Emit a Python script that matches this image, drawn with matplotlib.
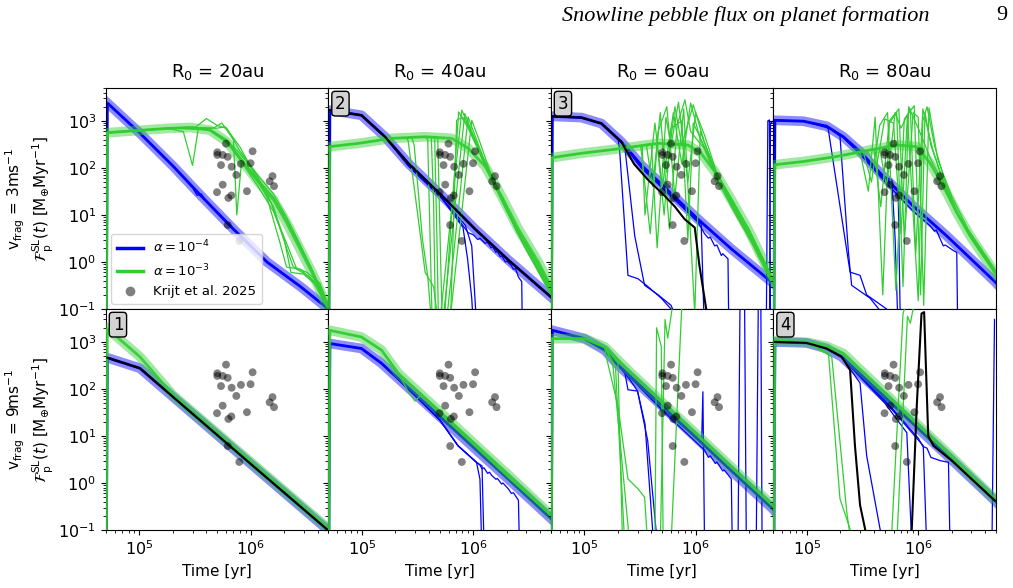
import matplotlib
matplotlib.use('Agg')
import matplotlib.pyplot as plt
from matplotlib.lines import Line2D

# ---------------- data ----------------
R0_LABELS = ['R$_0$ = 20au', 'R$_0$ = 40au', 'R$_0$ = 60au', 'R$_0$ = 80au']
ROW_LABELS = ['v$_{\\rm frag}$ = 3ms$^{-1}$', 'v$_{\\rm frag}$ = 9ms$^{-1}$']
YLAB2 = '$\\mathcal{F}_{\\rm p}^{\\rm SL}(t)$ [M$_{\\oplus}$Myr$^{-1}$]'
LEGEND_LABELS = ['$\\alpha = 10^{-4}$', '$\\alpha = 10^{-3}$', 'Krijt et al. 2025']

KRIJT_T = [5.01e5, 6.0e5, 5.01e5, 5.6e5, 6.21e5, 1.04e6, 5.41e5, 6.74e5, 8.17e5, 9.97e5, 7.43e5,
           1.57e6, 1.48e6, 1.62e6, 5.6e5, 4.98e5, 6.7e5, 6.3e5, 9.25e5, 6.21e5, 7.9e5]
KRIJT_F = [215, 328, 189, 189, 172, 226, 115, 106, 122, 126, 71,
           67, 52, 41, 44, 30.5, 26, 23, 32, 6.1, 2.8]

# --- v_frag = 3 m/s, R0 = 20 au
V3R20_BLUE = [(5.0e4, 1e-3), (5.15e4, 2400), (1e5, 560), (2e5, 110), (3.5e5, 27), (7e5, 5.0),
              (1.4e6, 1.0), (2.8e6, 0.3), (5e6, 0.1)]
V3R20_GREEN = [(5.0e4, 1e-3), (5.15e4, 560), (8.8e4, 615), (1.75e5, 690), (2.84e5, 725), (4.3e5, 637),
               (6.1e5, 361), (8.0e5, 161), (1.13e6, 56), (1.6e6, 21), (2.1e6, 6.9), (2.77e6, 1.9),
               (3.66e6, 0.52), (4.8e6, 0.12), (5e6, 0.1)]
V3R20_THIN_BLUE = [
    [(5.15e4, 2400), (1e5, 560), (2e5, 110), (3.0e5, 38), (3.3e5, 26), (3.6e5, 28), (4e5, 19),
     (7e5, 4.8), (1.4e6, 1.0), (2.8e6, 0.3), (5e6, 0.1)],
]
V3R20_THIN_GREEN = [
    [(5.15e4, 580), (1.75e5, 700), (2.48e5, 590), (3.0e5, 113), (3.38e5, 690), (4.3e5, 640), (6.1e5, 370),
     (8.0e5, 170), (1.13e6, 62), (1.6e6, 24), (2.1e6, 8), (2.77e6, 2.2), (3.66e6, 0.6), (5e6, 0.12)],
    [(5.15e4, 560), (1.75e5, 690), (3.2e5, 740), (4.0e5, 1120), (5.0e5, 800), (6.1e5, 690), (7.0e5, 390),
     (7.5e5, 10), (8.3e5, 148), (1.13e6, 55), (1.6e6, 15), (2.0e6, 3), (2.3e6, 0.6), (3.0e6, 0.55),
     (4.0e6, 0.3), (5e6, 0.1)],
    [(5.15e4, 560), (1.75e5, 690), (3.5e5, 720), (5.0e5, 700), (5.9e5, 750), (8e5, 280), (1.39e6, 25),
     (1.83e6, 2.6), (2.1e6, 0.78), (2.8e6, 0.7), (3.6e6, 0.4), (5e6, 0.1)],
    [(5.15e4, 560), (2e5, 700), (4.3e5, 650), (6.1e5, 360), (8e5, 150), (1.13e6, 45), (1.6e6, 12),
     (2.1e6, 2.5), (2.6e6, 0.7), (3.3e6, 0.5), (4.2e6, 0.3), (5e6, 0.12)],
    [(5.15e4, 560), (2e5, 700), (4.3e5, 660), (6.1e5, 400), (8e5, 200), (1.13e6, 75), (1.6e6, 28),
     (2.1e6, 9), (2.77e6, 2.4), (3.66e6, 0.6), (5e6, 0.1)],
    [(5.15e4, 560), (2e5, 700), (4.6e5, 700), (5.5e5, 900), (7e5, 400), (8e5, 230), (1.1e6, 80),
     (1.5e6, 20), (1.9e6, 4), (2.4e6, 0.8), (3.2e6, 0.6), (4.2e6, 0.35), (5e6, 0.12)],
]

# --- v_frag = 3 m/s, R0 = 40 au
V3R40_BLUE = [(5.0e4, 1e-3), (5.15e4, 1680), (9.9e4, 1316), (1.61e5, 460), (2.61e5, 125), (5.2e5, 26),
              (1.04e6, 5.0), (2.07e6, 1.1), (5e6, 0.18)]
V3R40_BLACK = [(5.15e4, 1680), (9.9e4, 1316), (1.61e5, 460), (2.61e5, 125), (5.2e5, 26),
               (1.04e6, 5.0), (2.07e6, 1.1), (5e6, 0.18)]
V3R40_GREEN = [(5.0e4, 1e-3), (5.15e4, 284), (9.3e4, 333), (1.85e5, 425), (3.69e5, 460), (6.4e5, 425),
               (9.0e5, 262), (1.28e6, 108), (1.8e6, 25), (2.55e6, 5.0), (3.85e6, 0.99), (5e6, 0.3)]
V3R40_EARLY_B = [(5.15e4, 1680), (9.9e4, 1316), (1.61e5, 460), (2.61e5, 112), (5.2e5, 23)]
V3R40_THIN_BLUE = [
    V3R40_EARLY_B + [(7.9e5, 6.4), (9.0e5, 4.2), (1.0e6, 3.8), (1.1e6, 3.0), (1.15e6, 3.2), (1.28e6, 2.5),
                     (1.35e6, 2.6), (1.45e6, 2.0), (1.5e6, 2.1), (1.6e6, 1.6), (1.65e6, 1.7), (1.75e6, 1.3),
                     (1.8e6, 1.35), (1.95e6, 1.0), (2.0e6, 1.05), (2.2e6, 0.84), (2.3e6, 0.7), (2.4e6, 0.72),
                     (2.55e6, 0.48), (2.73e6, 0.38), (2.76e6, 0.05)],
    V3R40_EARLY_B + [(8.1e5, 5.4), (8.9e5, 1.16), (9.7e5, 0.17), (1.0e6, 0.05)],
    V3R40_EARLY_B + [(8.5e5, 6), (9.7e5, 2.2), (1.07e6, 0.05)],
]
V3R40_EARLY_G = [(5.15e4, 284), (9.3e4, 333), (1.85e5, 425)]
V3R40_THIN_GREEN = [
    V3R40_EARLY_G + [(2.5e5, 440), (2.6e5, 380), (3.7e5, 0.6), (4.4e5, 0.3), (5.0e5, 0.03), (5.4e5, 0.03),
                     (7.4e5, 1550), (9.0e5, 700), (1.1e6, 250), (1.4e6, 70), (1.9e6, 16), (2.6e6, 4),
                     (3.9e6, 0.8), (5e6, 0.25)],
    V3R40_EARLY_G + [(2.8e5, 450), (2.95e5, 300), (3.5e5, 3), (3.9e5, 0.5), (4.3e5, 0.03), (4.9e5, 0.03),
                     (7.9e5, 1700), (9.5e5, 600), (1.2e6, 160), (1.5e6, 50), (2e6, 12), (2.7e6, 3),
                     (3.9e6, 0.7), (5e6, 0.22)],
    V3R40_EARLY_G + [(3.69e5, 460), (3.9e5, 400), (4.3e5, 0.03), (5.2e5, 0.03), (8.4e5, 1430),
                     (1.0e6, 500), (1.25e6, 140), (1.6e6, 40), (2.1e6, 10), (2.8e6, 2.5), (4e6, 0.6),
                     (5e6, 0.25)],
    V3R40_EARLY_G + [(3.69e5, 460), (4.2e5, 450), (4.4e5, 20), (4.6e5, 0.03), (5.6e5, 0.03), (9.0e5, 1210),
                     (1.05e6, 450), (1.3e6, 120), (1.7e6, 30), (2.2e6, 8), (3e6, 1.8), (4.2e6, 0.45),
                     (5e6, 0.22)],
    V3R40_EARLY_G + [(3.69e5, 460), (4.5e5, 455), (4.7e5, 5), (4.9e5, 0.03), (6.0e5, 0.03), (9.7e5, 1030),
                     (1.15e6, 350), (1.4e6, 90), (1.8e6, 25), (2.4e6, 5), (3.3e6, 1.2), (5e6, 0.2)],
    V3R40_EARLY_G + [(3.69e5, 460), (4.8e5, 450), (5.1e5, 1), (5.3e5, 0.03), (6.2e5, 0.03), (7.1e5, 1030),
                     (8.0e5, 1200), (9.0e5, 800), (1.1e6, 300), (1.4e6, 80), (1.9e6, 18), (2.6e6, 4),
                     (3.8e6, 0.9), (5e6, 0.28)],
]

# --- v_frag = 3 m/s, R0 = 60 au
V3R60_BLUE = [(5.0e4, 1e-3), (5.15e4, 1250), (9.4e4, 1175), (1.42e5, 880), (2.14e5, 361), (3.24e5, 115),
              (5.3e5, 38), (1.05e6, 8.1), (2.09e6, 1.9), (4.78e6, 0.38), (5e6, 0.35)]
V3R60_BLACK = [(5.15e4, 1250), (9.4e4, 1175), (1.42e5, 880), (2.14e5, 361), (2.8e5, 120), (3.72e5, 56),
               (5.3e5, 25), (6.5e5, 15), (7.96e5, 8.1), (9.8e5, 5.4), (1.08e6, 0.84), (1.2e6, 0.17),
               (1.3e6, 0.05)]
V3R60_GREEN = [(5.0e4, 1e-3), (5.15e4, 166), (9.4e4, 205), (1.87e5, 249), (4.6e5, 333), (8.5e5, 307),
               (1.12e6, 205), (1.48e6, 84), (2.09e6, 21), (2.95e6, 5.0), (4.78e6, 0.48), (5e6, 0.4)]
V3R60_EARLY_B = [(5.15e4, 1250), (9.4e4, 1175), (1.42e5, 880)]
V3R60_THIN_BLUE = [
    V3R60_EARLY_B + [(2.0e5, 420), (2.07e5, 241), (2.46e5, 0.52), (3.03e5, 0.44), (3.72e5, 0.30),
                     (4.9e5, 0.17), (6.0e5, 0.1), (6.5e5, 0.05), (4.3e6, 0.02), (4.45e6, 1000),
                     (4.6e6, 1050), (4.7e6, 0.05)],
    V3R60_EARLY_B + [(2.14e5, 361), (2.3e5, 290), (2.83e5, 3.6), (3.47e5, 0.32), (4.6e5, 0.2),
                     (6.0e5, 0.12), (7e5, 0.05), (4.6e6, 0.02), (4.7e6, 900), (5.0e6, 1000)],
    V3R60_EARLY_B + [(2.14e5, 350), (3.24e5, 105), (5.3e5, 34), (1.05e6, 7.2), (1.12e6, 6.5),
                     (1.19e6, 0.05)],
    V3R60_EARLY_B + [(2.14e5, 350), (3.24e5, 100), (5.3e5, 33), (1.05e6, 7.0), (1.2e6, 4.0), (1.3e6, 3.2),
                     (1.35e6, 3.4), (1.48e6, 2.2), (1.55e6, 2.3), (1.7e6, 1.37), (1.75e6, 1.5),
                     (1.95e6, 1.17), (1.98e6, 0.05)],
]
V3R60_EARLY_G = [(5.15e4, 166), (9.4e4, 205), (1.87e5, 249), (3.0e5, 290)]
V3R60_THIN_GREEN = [
    V3R60_EARLY_G + [(3.3e5, 300), (3.5e5, 10), (4.3e5, 900), (5.0e5, 40), (6.3e5, 1500), (7.5e5, 120),
                     (9e5, 2400), (1.1e6, 400), (1.5e6, 90), (2.1e6, 22), (3e6, 5), (5e6, 0.4)],
    V3R60_EARLY_G + [(3.2e5, 300), (3.9e5, 4), (4.6e5, 600), (5.5e5, 2000), (6.5e5, 25), (7.8e5, 1800),
                     (9.8e5, 0.08), (1.1e6, 600), (1.3e6, 200), (1.6e6, 60), (2.2e6, 15), (3.1e6, 3.5),
                     (5e6, 0.35)],
    V3R60_EARLY_G + [(4.0e5, 330), (4.5e5, 2), (5.4e5, 1200), (6.0e5, 300), (7.0e5, 2500), (8.5e5, 50),
                     (1.0e6, 1500), (1.2e6, 500), (1.6e6, 60), (2.2e6, 14), (3.2e6, 3), (5e6, 0.35)],
    V3R60_EARLY_G + [(3.6e5, 310), (4.1e5, 40), (4.8e5, 1500), (5.8e5, 5), (6.8e5, 800), (8.0e5, 2800),
                     (9e5, 600), (1.2e6, 250), (1.6e6, 50), (2.2e6, 12), (3.2e6, 2.5), (5e6, 0.3)],
    V3R60_EARLY_G + [(4.5e5, 330), (5.2e5, 10), (6.0e5, 700), (7.5e5, 1000), (8.5e5, 3), (9.5e5, 900),
                     (1.15e6, 350), (1.5e6, 80), (2.0e6, 20), (2.9e6, 4), (5e6, 0.4)],
    V3R60_EARLY_G + [(5.0e5, 340), (5.5e5, 80), (6.5e5, 2000), (7.5e5, 300), (9.5e5, 2200), (1.2e6, 350),
                     (1.6e6, 60), (2.2e6, 14), (3.2e6, 3), (5e6, 0.35)],
]

# --- v_frag = 3 m/s, R0 = 80 au
V3R80_BLUE = [(5.0e4, 1e-3), (5.15e4, 1030), (9.3e4, 985), (1.5e5, 772), (2.12e5, 460), (3.0e5, 222),
              (4.54e5, 78), (9.0e5, 15.5), (1.8e6, 3.6), (4.9e6, 0.38), (5e6, 0.36)]
V3R80_GREEN = [(5.0e4, 1e-3), (5.15e4, 117), (9.3e4, 137), (1.85e5, 175), (3.69e5, 241), (6.4e5, 307),
               (9.7e5, 284), (1.28e6, 126), (1.68e6, 41), (2.22e6, 11.2), (2.92e6, 3.6), (3.85e6, 1.37),
               (5e6, 0.55)]
V3R80_EARLY_B = [(5.15e4, 1030), (9.3e4, 985)]
V3R80_THIN_BLUE = [
    V3R80_EARLY_B + [(1.5e5, 720), (1.55e5, 690), (2.44e5, 0.61), (3.0e5, 0.52), (3.44e5, 0.2),
                     (5.2e5, 0.1), (6e5, 0.05)],
    V3R80_EARLY_B + [(1.5e5, 772), (1.98e5, 475), (2.36e5, 1.6), (2.52e5, 0.32), (3.69e5, 0.17),
                     (5.6e5, 0.05)],
    V3R80_EARLY_B + [(1.5e5, 772), (2.12e5, 450), (3.0e5, 210), (4.54e5, 72), (5.8e5, 55), (6.2e5, 3.1),
                     (6.5e5, 0.1), (6.7e5, 0.05)],
    V3R80_EARLY_B + [(1.5e5, 772), (2.12e5, 450), (3.0e5, 205), (4.54e5, 70), (6.6e5, 35), (6.9e5, 0.05)],
    V3R80_EARLY_B + [(1.5e5, 772), (2.12e5, 440), (3.0e5, 195), (4.54e5, 66), (9.0e5, 12), (1.28e6, 5.9),
                     (1.4e6, 4.5), (1.45e6, 4.8), (1.68e6, 2.2), (1.75e6, 2.3), (2.07e6, 1.75),
                     (2.22e6, 1.6), (2.26e6, 0.05)],
]
V3R80_EARLY_G = [(5.15e4, 117), (9.3e4, 137), (1.85e5, 175), (2.8e5, 210)]
V3R80_THIN_GREEN = [
    V3R80_EARLY_G + [(3.0e5, 220), (3.56e5, 32), (4.1e5, 1200), (4.8e5, 0.2), (5.5e5, 900), (6.4e5, 1500),
                     (7.3e5, 0.3), (8.2e5, 2000), (1.0e6, 700), (1.3e6, 150), (1.7e6, 45), (2.2e6, 12),
                     (3e6, 3.5), (5e6, 0.55)],
    V3R80_EARLY_G + [(3.2e5, 225), (3.8e5, 50), (4.5e5, 800), (5.3e5, 1500), (6.3e5, 0.25), (7.5e5, 1100),
                     (9.2e5, 2100), (1.05e6, 0.2), (1.15e6, 1500), (1.3e6, 300), (1.7e6, 50), (2.2e6, 12),
                     (3e6, 3.5), (5e6, 0.6)],
    V3R80_EARLY_G + [(3.5e5, 230), (4.2e5, 100), (5.0e5, 1100), (6.0e5, 900), (7e5, 4), (8.0e5, 1300),
                     (1.0e6, 0.15), (1.1e6, 1000), (1.2e6, 2000), (1.4e6, 300), (1.8e6, 40), (2.3e6, 10),
                     (3.1e6, 3), (5e6, 0.6)],
    V3R80_EARLY_G + [(4.0e5, 250), (4.6e5, 15), (5.5e5, 1000), (6.7e5, 1800), (7.5e5, 3), (9.0e5, 1500),
                     (1.0e6, 1200), (1.12e6, 0.12), (1.25e6, 1900), (1.5e6, 150), (2.0e6, 25), (2.8e6, 5),
                     (5e6, 0.65)],
    V3R80_EARLY_G + [(4.5e5, 260), (5.2e5, 40), (6.2e5, 1500), (7.0e5, 700), (8.5e5, 1800), (9.5e5, 1.5),
                     (1.1e6, 1800), (1.35e6, 250), (1.8e6, 30), (2.4e6, 8), (3.2e6, 2.5), (5e6, 0.55)],
]

# --- v_frag = 9 m/s, R0 = 20 au
V9R20_BLUE = [(5.0e4, 1e-3), (5.15e4, 460), (1.01e5, 275), (2e5, 68), (1e6, 2.55), (4.82e6, 0.105),
              (5e6, 0.098)]
V9R20_BLACK = [(5.15e4, 460), (1.01e5, 275), (2e5, 68), (1e6, 2.55), (4.82e6, 0.105), (5e6, 0.098)]
V9R20_GREEN = [(5.0e4, 1e-3), (5.15e4, 1910), (1.01e5, 483), (1.48e5, 169), (2.0e5, 74), (1e6, 2.8),
               (4.82e6, 0.115), (5e6, 0.105)]

# --- v_frag = 9 m/s, R0 = 40 au
V9R40_BLUE = [(5.0e4, 1e-3), (5.15e4, 923), (9.9e4, 724), (1.5e5, 350), (5e5, 26), (1e6, 5.8),
              (2e6, 1.3), (5e6, 0.176)]
V9R40_GREEN = [(5.0e4, 1e-3), (5.15e4, 1760), (9.9e4, 1270), (1.5e5, 668), (2.12e5, 215), (5e5, 33),
               (1e6, 7.2), (2e6, 1.6), (5e6, 0.207)]
V9R40_EARLY_B = [(5.15e4, 923), (9.9e4, 724), (1.5e5, 350), (3e5, 72), (5e5, 22), (7.3e5, 6.2),
                 (1.07e6, 2.75)]
V9R40_THIN_BLUE = [
    V9R40_EARLY_B + [(1.15e6, 2.4), (1.2e6, 2.0), (1.25e6, 2.1), (1.35e6, 1.6), (1.4e6, 1.7),
                     (1.47e6, 1.44), (1.6e6, 1.2), (1.65e6, 1.25), (1.8e6, 0.95), (1.85e6, 1.0),
                     (2.07e6, 0.75), (2.2e6, 0.6), (2.3e6, 0.62), (2.55e6, 0.43), (2.6e6, 0.05)],
    V9R40_EARLY_B + [(1.15e6, 1.2), (1.19e6, 0.05)],
    V9R40_EARLY_B + [(1.2e6, 2.3), (1.25e6, 0.05)],
]
V9R40_THIN_GREEN = [
    [(5.15e4, 1760), (9.9e4, 1270), (1.5e5, 668), (2.12e5, 215), (2.6e5, 88), (3.0e5, 55), (3.4e5, 75),
     (5e5, 30), (1e6, 6.5), (2e6, 1.4), (5e6, 0.2)],
]

# --- v_frag = 9 m/s, R0 = 60 au
V9R60_BLUE = [(5.0e4, 1e-3), (5.15e4, 1760), (1.0e5, 1175), (1.52e5, 668), (2.0e5, 323), (5e5, 43),
              (1e6, 9.4), (2e6, 2.0), (4.9e6, 0.286), (5e6, 0.27)]
V9R60_GREEN = [(5.0e4, 1e-3), (5.15e4, 1175), (1.0e5, 1175), (1.52e5, 785), (2.64e5, 215), (5e5, 52),
               (1e6, 11.3), (2e6, 2.4), (4.9e6, 0.336), (5e6, 0.32)]
V9R60_EARLY_B = [(5.15e4, 1760), (1.0e5, 1175), (1.52e5, 668), (2.0e5, 323)]
V9R60_THIN_BLUE = [
    V9R60_EARLY_B + [(2.3e5, 230), (2.46e5, 96), (3.0e5, 90), (3.5e5, 18), (4.1e5, 0.1), (4.3e5, 0.05)],
    V9R60_EARLY_B + [(2.6e5, 150), (3.0e5, 90), (3.7e5, 8), (4.4e5, 0.1), (4.6e5, 0.05)],
    V9R60_EARLY_B + [(5e5, 37), (1.13e6, 7.5), (1.16e6, 87), (1.2e6, 0.05)],
    V9R60_EARLY_B + [(5e5, 35), (1.0e6, 7.5), (1.2e6, 5.0), (1.3e6, 3.5), (1.35e6, 3.8), (1.5e6, 2.6),
                     (1.55e6, 2.8), (1.75e6, 1.8), (1.8e6, 1.9), (2.09e6, 1.22), (2.13e6, 0.05),
                     (2.4e6, 0.05), (2.5e6, 6000), (2.75e6, 6000), (2.85e6, 0.05), (3.5e6, 0.05),
                     (3.65e6, 6000), (3.85e6, 6000), (3.95e6, 0.05)],
]
V9R60_EARLY_G = [(5.15e4, 1175), (1.0e5, 1175), (1.52e5, 785)]
V9R60_THIN_GREEN = [
    V9R60_EARLY_G + [(1.57e5, 483), (2.0e5, 43), (2.46e5, 1.22), (3.03e5, 0.75), (3.47e5, 0.5),
                     (3.7e5, 0.05)],
    V9R60_EARLY_G + [(1.8e5, 323), (2.46e5, 0.127), (2.55e5, 0.05), (4.3e5, 0.05), (4.45e5, 2000),
                     (4.9e5, 800), (5.1e5, 0.05)],
    V9R60_EARLY_G + [(1.9e5, 300), (2.3e5, 0.05), (4.8e5, 0.05), (5.3e5, 3000), (5.6e5, 1200),
                     (6.2e5, 6000), (5e6, 8000)],
    V9R60_EARLY_G + [(2.0e5, 350), (2.2e5, 0.05), (6.0e5, 0.05), (7.5e5, 6000), (5e6, 8000)],
]

# --- v_frag = 9 m/s, R0 = 80 au
V9R80_BLUE = [(5.0e4, 1e-3), (5.15e4, 1000), (9.9e4, 953), (1.5e5, 724), (2.05e5, 483), (5e5, 67),
              (1e6, 14.4), (2e6, 3.1), (4.9e6, 0.42), (5e6, 0.4)]
V9R80_GREEN = [(5.0e4, 1e-3), (5.15e4, 1050), (9.9e4, 980), (1.5e5, 811), (2.12e5, 568), (5e5, 82),
               (1e6, 17), (2e6, 3.6), (4.9e6, 0.45), (5e6, 0.43)]
V9R80_BLACK = [(5.15e4, 1000), (9.9e4, 953), (1.5e5, 724), (2.05e5, 483), (2.44e5, 254), (2.7e5, 6.2),
               (3.0e5, 0.34), (3.33e5, 0.105), (3.5e5, 0.05), (8.5e5, 0.05), (8.75e5, 0.105), (9.7e5, 43),
               (1.07e6, 4000), (1.13e6, 4300), (1.23e6, 10), (1.37e6, 6.2), (2e6, 3.0), (4.9e6, 0.42)]
V9R80_EARLY_B = [(5.15e4, 1000), (9.9e4, 953), (1.5e5, 724)]
V9R80_THIN_BLUE = [
    V9R80_EARLY_B + [(2.05e5, 483), (3.0e5, 133), (3.44e5, 3.8), (4.54e5, 0.105), (4.8e5, 0.05),
                     (4.6e6, 0.05), (4.85e6, 3000)],
    V9R80_EARLY_B + [(2.05e5, 470), (5e5, 50), (7.9e5, 11.7), (8.75e5, 0.05)],
    V9R80_EARLY_B + [(2.05e5, 470), (5e5, 55), (1.11e6, 6.2), (1.19e6, 0.05)],
    V9R80_EARLY_B + [(2.05e5, 475), (5e5, 58), (1.0e6, 9), (1.1e6, 6), (1.2e6, 5.5), (1.3e6, 3.5),
                     (1.57e6, 3.0), (1.87e6, 2.75), (1.93e6, 0.05)],
]
V9R80_EARLY_G = [(5.15e4, 1050), (9.9e4, 980)]
V9R80_THIN_GREEN = [
    V9R80_EARLY_G + [(1.56e5, 568), (1.98e5, 0.46), (2.44e5, 0.105), (2.6e5, 0.05), (5.5e5, 0.05),
                     (5.8e5, 0.1), (7.3e5, 4000), (8e5, 8000), (5e6, 8000)],
    V9R80_EARLY_G + [(1.67e5, 483), (2.28e5, 0.24), (2.5e5, 0.05), (6.2e5, 0.05), (6.5e5, 0.1),
                     (8e5, 3500), (8.5e5, 2500), (9.0e5, 5000), (1.0e6, 8000), (5e6, 8000)],
]

# ---------------- plotting ----------------
XLIM = (5e4, 5e6)
YLIM = (1e-1, 5e3)
BLUE = 'blue'
GREEN = 'limegreen'

PANELS = {
    (0, 0): dict(blue=V3R20_BLUE, green=V3R20_GREEN, tb=V3R20_THIN_BLUE, tg=V3R20_THIN_GREEN, black=None, tag=None),
    (0, 1): dict(blue=V3R40_BLUE, green=V3R40_GREEN, tb=V3R40_THIN_BLUE, tg=V3R40_THIN_GREEN, black=V3R40_BLACK, tag='2'),
    (0, 2): dict(blue=V3R60_BLUE, green=V3R60_GREEN, tb=V3R60_THIN_BLUE, tg=V3R60_THIN_GREEN, black=V3R60_BLACK, tag='3'),
    (0, 3): dict(blue=V3R80_BLUE, green=V3R80_GREEN, tb=V3R80_THIN_BLUE, tg=V3R80_THIN_GREEN, black=None, tag=None),
    (1, 0): dict(blue=V9R20_BLUE, green=V9R20_GREEN, tb=[], tg=[], black=V9R20_BLACK, tag='1'),
    (1, 1): dict(blue=V9R40_BLUE, green=V9R40_GREEN, tb=V9R40_THIN_BLUE, tg=V9R40_THIN_GREEN, black=None, tag=None),
    (1, 2): dict(blue=V9R60_BLUE, green=V9R60_GREEN, tb=V9R60_THIN_BLUE, tg=V9R60_THIN_GREEN, black=None, tag=None),
    (1, 3): dict(blue=V9R80_BLUE, green=V9R80_GREEN, tb=V9R80_THIN_BLUE, tg=V9R80_THIN_GREEN, black=V9R80_BLACK, tag='4'),
}


def unpack(pts):
    return [p[0] for p in pts], [p[1] for p in pts]


fig, axes = plt.subplots(2, 4, sharex=True, sharey=True, figsize=(10.13, 5.88), dpi=100)
plt.subplots_adjust(left=0.1046, right=0.9832, top=0.8503, bottom=0.0986, wspace=0, hspace=0)

for (r, c), spec in PANELS.items():
    ax = axes[r, c]
    ax.set_xscale('log')
    ax.set_yscale('log')
    # alpha = 1e-4 (blue)
    t, F = unpack(spec['blue'])
    ax.plot(t[1:], F[1:], color=BLUE, lw=7, alpha=0.45, zorder=1, solid_joinstyle='round')
    for line in spec['tb']:
        tt, FF = unpack(line)
        ax.plot(tt, FF, color=BLUE, lw=0.9, zorder=2)
    ax.plot(t, F, color=BLUE, lw=2, zorder=2.5)
    # alpha = 1e-3 (green)
    t, F = unpack(spec['green'])
    ax.plot(t[1:], F[1:], color=GREEN, lw=7, alpha=0.45, zorder=3, solid_joinstyle='round')
    for line in spec['tg']:
        tt, FF = unpack(line)
        ax.plot(tt, FF, color=GREEN, lw=0.9, zorder=3.5)
    ax.plot(t, F, color=GREEN, lw=2, zorder=3.7, alpha=0.9)
    if spec['black'] is not None:
        tt, FF = unpack(spec['black'])
        ax.plot(tt, FF, color='black', lw=1.5, zorder=4)
    ax.scatter(KRIJT_T, KRIJT_F, s=32, color='black', alpha=0.5, edgecolors='none', zorder=5)
    if spec['tag'] is not None:
        ax.text(0.03, 0.97, spec['tag'], transform=ax.transAxes, ha='left', va='top', fontsize=12,
                zorder=6, bbox=dict(boxstyle='round,pad=0.2', fc='lightgray', ec='black', lw=1))
    ax.set_xlim(*XLIM)
    ax.set_ylim(*YLIM)
    ax.tick_params(labelsize=11.5)
    if r == 0:
        ax.set_title(R0_LABELS[c], fontsize=13, pad=8)
    if r == 1:
        ax.set_xlabel('Time [yr]', fontsize=11)
    if c == 0:
        ax.set_ylabel(ROW_LABELS[r] + '\n' + YLAB2, fontsize=11, labelpad=2)

handles = [Line2D([0], [0], color=BLUE, lw=2.5),
           Line2D([0], [0], color=GREEN, lw=2.5),
           Line2D([0], [0], marker='o', color='none', markerfacecolor='gray', markeredgecolor='none',
                  markersize=7)]
axes[0, 0].legend(handles, LEGEND_LABELS, loc='lower left', fontsize=9.5, framealpha=0.8,
                  borderaxespad=0.4)

fig.text(0.918, 0.99, 'Snowline pebble flux on planet formation', ha='right', va='top', fontsize=16,
         family='Liberation Serif', style='italic')
fig.text(0.994, 0.99, '9', ha='right', va='top', fontsize=16, family='Liberation Serif')

fig.savefig('out.png', dpi=100)
